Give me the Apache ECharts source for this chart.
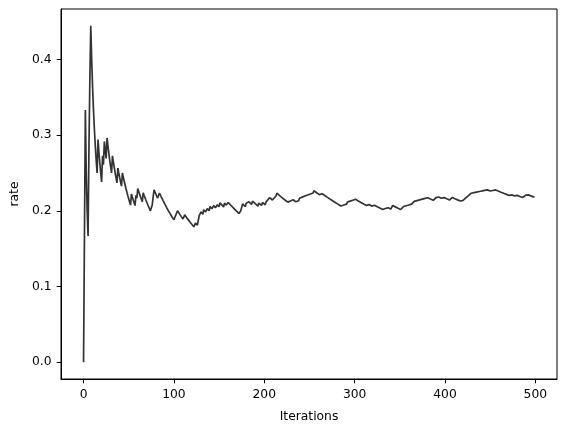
<!DOCTYPE html>
<html>
<head>
<meta charset="utf-8">
<script src="https://cdn.jsdelivr.net/npm/echarts@6/dist/echarts.min.js"></script>
<style>
html,body{margin:0;padding:0;background:#fff;}
#chart{width:567px;height:432px;}
</style>
</head>
<body>
<div id="chart"></div>
<script>
const hitIterations = [
  2, 6, 7, 8, 16, 21, 23, 26, 32, 38, 43, 53, 58, 60, 66, 76, 77, 78, 84,
  102, 104, 112, 124, 127, 128, 130, 133, 137, 140, 144, 148, 151, 156, 160,
  174, 175, 176, 180, 183, 187, 194, 198, 202, 204, 206, 211, 213, 214,
  228, 231, 237, 239, 241, 244, 248, 250, 253, 255, 263,
  287, 290, 292, 295, 297, 300, 315, 320, 333, 336, 341, 342,
  352, 354, 357, 359, 361, 364, 366, 369, 372, 375, 378, 381,
  388, 390, 392, 398, 407, 408, 419, 421, 423, 424, 426, 427, 429, 431,
  435, 438, 441, 444, 447, 451, 455, 474, 479, 487, 489, 491
];
const totalIterations = 500;
const xTicks = [0, 100, 200, 300, 400, 500];
const yTicks = [0, 0.1, 0.2, 0.3, 0.4];

// running success rate after each iteration
const hitSet = new Set(hitIterations);
const rateSeries = [];
let hits = 0;
for (let i = 0; i < totalIterations; i++) {
  if (hitSet.has(i)) hits++;
  rateSeries.push([i, hits / (i + 1)]);
}

const font = 'DejaVu Sans';
const chart = echarts.init(document.getElementById('chart'), null, {renderer: 'canvas'});
chart.setOption({
  animation: false,
  backgroundColor: '#ffffff',
  grid: {left: 61, right: 10, top: 9, bottom: 53, show: true, borderColor: '#000', borderWidth: 1, backgroundColor: 'transparent'},
  xAxis: {
    type: 'value', min: -24.95, max: 523.95,
    name: 'Iterations', nameLocation: 'middle', nameGap: 32,
    nameTextStyle: {fontFamily: font, fontSize: 12.3, color: '#000'},
    axisLine: {show: true, onZero: false, lineStyle: {color: '#000', width: 1}},
    axisTick: {show: true, length: 4.3, inside: false, customValues: xTicks, lineStyle: {color: '#000', width: 1}},
    axisLabel: {customValues: xTicks, margin: 10, fontFamily: font, fontSize: 12.3, color: '#000'},
    splitLine: {show: false}
  },
  yAxis: {
    type: 'value', min: -0.02222, max: 0.46667,
    name: 'rate', nameLocation: 'middle', nameGap: 37.5, nameRotate: 90,
    nameTextStyle: {fontFamily: font, fontSize: 12.3, color: '#000'},
    axisLine: {show: true, onZero: false, lineStyle: {color: '#000', width: 1}},
    axisTick: {show: true, length: 4.3, inside: false, customValues: yTicks, lineStyle: {color: '#000', width: 1}},
    axisLabel: {customValues: yTicks, margin: 9.5, fontFamily: font, fontSize: 12.3, color: '#000',
      formatter: v => v.toFixed(1)},
    splitLine: {show: false}
  },
  series: [{
    type: 'line',
    data: rateSeries,
    showSymbol: false,
    symbol: 'none',
    lineStyle: {color: '#333333', width: 1.7},
    itemStyle: {color: '#333333'}
  }]
});
</script>
</body>
</html>
